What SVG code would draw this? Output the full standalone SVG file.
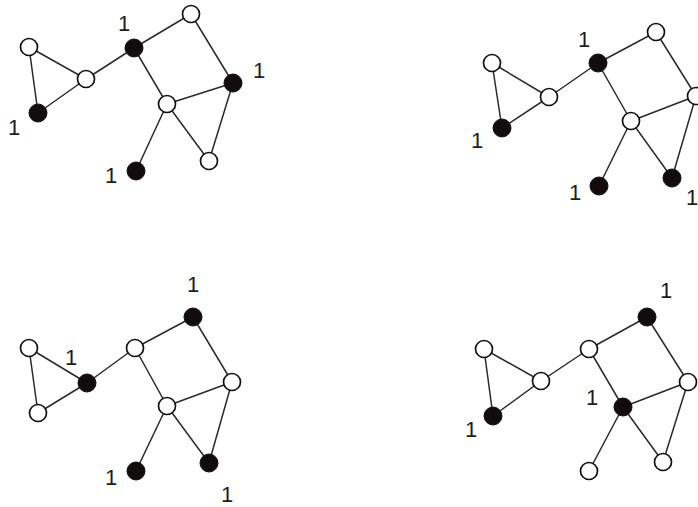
<svg xmlns="http://www.w3.org/2000/svg" width="698" height="507" viewBox="0 0 698 507">
<style>
.e{stroke:#2a2a2a;stroke-width:1.5;fill:none}
.w{fill:#fff;stroke:#111;stroke-width:1.7}
.b{fill:#120c0c;stroke:#111;stroke-width:1}
.t{font-family:"Liberation Sans",Arial,sans-serif;font-size:22px;fill:#1e1e1e;text-anchor:middle}
</style>
<rect width="698" height="507" fill="#fff"/>
<g id="connectors">
<path class="e" d="M29,47L38,113M29,47L86,79M38,113L86,79M86,79L134,48M134,48L191,14M134,48L167,104M191,14L233,83M167,104L233,83M167,104L136,171M167,104L209,161M233,83L209,161"/>
<path class="e" d="M492,63L502,128M492,63L549,97M502,128L549,97M549,97L598,63M598,63L656,32M598,63L631,121M656,32L696,96M631,121L696,96M631,121L599,186M631,121L672,178M696,96L672,178"/>
<path class="e" d="M29,348L38,413M29,348L87,383M38,413L87,383M87,383L135,348M135,348L193,317M135,348L167,406M193,317L232,382M167,406L232,382M167,406L136,471M167,406L209,463M232,382L209,463"/>
<path class="e" d="M484,349L493,416M484,349L541,381M493,416L541,381M541,381L589,349M589,349L647,317M589,349L623,407M647,317L688,382M623,407L688,382M623,407L589,471M623,407L663,462M688,382L663,462"/>
</g>
<g id="graph1">
<circle id="g1a" class="w" cx="29" cy="47" r="8.5"/>
<circle id="g1b" class="b" cx="38" cy="113" r="9"/>
<circle id="g1c" class="w" cx="86" cy="79" r="8.5"/>
<circle id="g1d" class="b" cx="134" cy="48" r="9"/>
<circle id="g1e" class="w" cx="191" cy="14" r="8.5"/>
<circle id="g1f" class="b" cx="233" cy="83" r="9"/>
<circle id="g1g" class="w" cx="167" cy="104" r="8.5"/>
<circle id="g1h" class="b" cx="136" cy="171" r="9"/>
<circle id="g1i" class="w" cx="209" cy="161" r="8.5"/>
<text class="t" x="124" y="31">1</text>
<text class="t" x="259" y="78">1</text>
<text class="t" x="14" y="135">1</text>
<text class="t" x="111" y="183">1</text>
</g>
<g id="graph2">
<circle id="g2a" class="w" cx="492" cy="63" r="8.5"/>
<circle id="g2b" class="b" cx="502" cy="128" r="9"/>
<circle id="g2c" class="w" cx="549" cy="97" r="8.5"/>
<circle id="g2d" class="b" cx="598" cy="63" r="9"/>
<circle id="g2e" class="w" cx="656" cy="32" r="8.5"/>
<circle id="g2f" class="w" cx="696" cy="96" r="8.5"/>
<circle id="g2g" class="w" cx="631" cy="121" r="8.5"/>
<circle id="g2h" class="b" cx="599" cy="186" r="9"/>
<circle id="g2i" class="b" cx="672" cy="178" r="9"/>
<text class="t" x="584" y="47">1</text>
<text class="t" x="477" y="148">1</text>
<text class="t" x="575" y="200">1</text>
<text class="t" x="692" y="205">1</text>
</g>
<g id="graph3">
<circle id="g3a" class="w" cx="29" cy="348" r="8.5"/>
<circle id="g3b" class="w" cx="38" cy="413" r="8.5"/>
<circle id="g3c" class="b" cx="87" cy="383" r="9"/>
<circle id="g3d" class="w" cx="135" cy="348" r="8.5"/>
<circle id="g3e" class="b" cx="193" cy="317" r="9"/>
<circle id="g3f" class="w" cx="232" cy="382" r="8.5"/>
<circle id="g3g" class="w" cx="167" cy="406" r="8.5"/>
<circle id="g3h" class="b" cx="136" cy="471" r="9"/>
<circle id="g3i" class="b" cx="209" cy="463" r="9"/>
<text class="t" x="193" y="292">1</text>
<text class="t" x="71" y="365">1</text>
<text class="t" x="111" y="485">1</text>
<text class="t" x="227" y="502">1</text>
</g>
<g id="graph4">
<circle id="g4a" class="w" cx="484" cy="349" r="8.5"/>
<circle id="g4b" class="b" cx="493" cy="416" r="9"/>
<circle id="g4c" class="w" cx="541" cy="381" r="8.5"/>
<circle id="g4d" class="w" cx="589" cy="349" r="8.5"/>
<circle id="g4e" class="b" cx="647" cy="317" r="9"/>
<circle id="g4f" class="w" cx="688" cy="382" r="8.5"/>
<circle id="g4g" class="b" cx="623" cy="407" r="9"/>
<circle id="g4h" class="w" cx="589" cy="471" r="8.5"/>
<circle id="g4i" class="w" cx="663" cy="462" r="8.5"/>
<text class="t" x="666" y="298">1</text>
<text class="t" x="592" y="405">1</text>
<text class="t" x="471" y="437">1</text>
</g>
</svg>
